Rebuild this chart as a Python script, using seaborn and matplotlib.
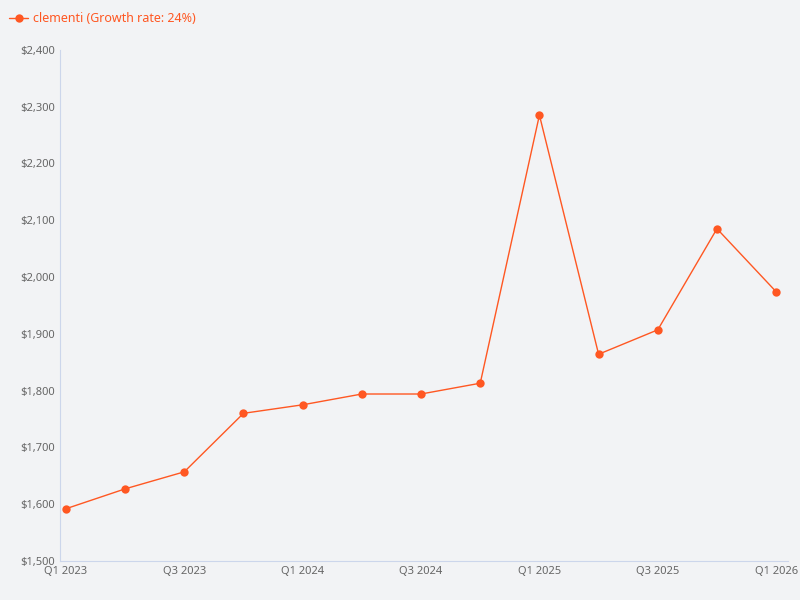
import matplotlib
matplotlib.use("Agg")
import matplotlib.pyplot as plt
import seaborn as sns
import pandas as pd
from matplotlib.ticker import FuncFormatter

quarters = ["Q1 2023","Q2 2023","Q3 2023","Q4 2023","Q1 2024","Q2 2024","Q3 2024",
            "Q4 2024","Q1 2025","Q2 2025","Q3 2025","Q4 2025","Q1 2026"]
values = [1592, 1627, 1657, 1760, 1775, 1794, 1794, 1813, 2285, 1864, 1907, 2085, 1974]
color = "#ff5722"
bg = "#f2f3f5"

sns.set_style("white")
plt.rcParams['font.family'] = ['Noto Sans', 'DejaVu Sans']
df = pd.DataFrame({"x": range(len(quarters)), "v": values})

fig = plt.figure(figsize=(8, 6), dpi=100, facecolor=bg)
ax = fig.add_axes([0.075, 0.065, 0.91, 0.852])
ax.set_facecolor(bg)
sns.lineplot(data=df, x="x", y="v", ax=ax, color=color, linewidth=1, marker="o",
             markersize=6, markeredgewidth=0, label="clementi (Growth rate: 24%)")
ax.set_xlim(-0.1, 12.2)
ax.set_ylim(1500, 2400)
ax.set_yticks(range(1500, 2401, 100))
ax.yaxis.set_major_formatter(FuncFormatter(lambda v, p: f"${v:,.0f}"))
ax.set_xticks(range(0, 13, 2))
ax.set_xticklabels(quarters[::2])
ax.tick_params(labelsize=8, colors="#666666", length=0)
ax.set_xlabel(""); ax.set_ylabel("")
for s in ["top", "right"]:
    ax.spines[s].set_visible(False)
for s in ["left", "bottom"]:
    ax.spines[s].set_color("#ccd6eb")
    ax.spines[s].set_linewidth(0.8)
leg = ax.legend(loc="upper left", bbox_to_anchor=(-0.085, 1.095), frameon=False,
                handlelength=1.5, handletextpad=0.4, prop={"weight": "bold", "size": 9})
for t in leg.get_texts():
    t.set_color(color)
fig.savefig("out.png", dpi=100, facecolor=bg)
